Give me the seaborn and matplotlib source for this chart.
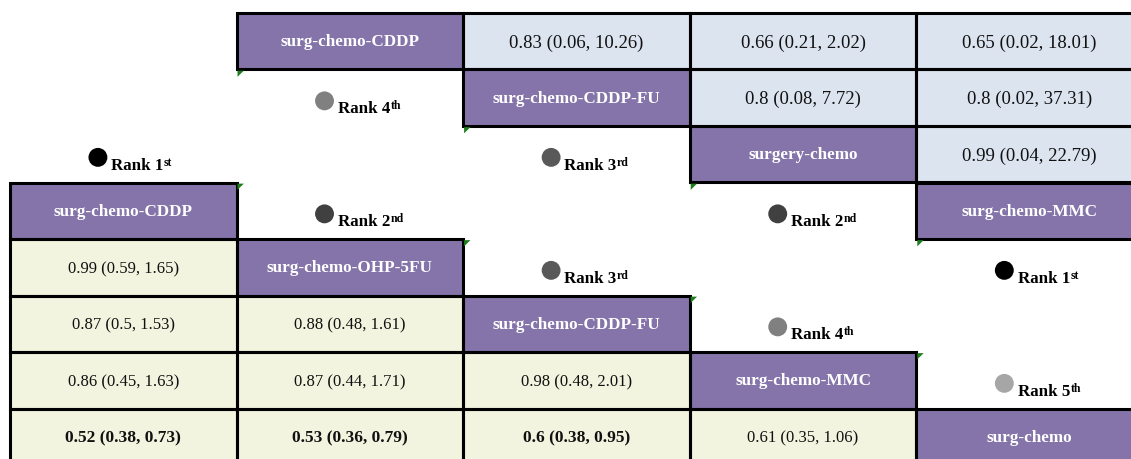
import numpy as np
import pandas as pd
import seaborn as sns
import matplotlib.pyplot as plt
from matplotlib.colors import ListedColormap
from matplotlib.patches import Polygon, Rectangle

# ---- data -------------------------------------------------------------
# upper league table (treatments on the diagonal, comparisons to the right)
top_treatments = ["surg-chemo-CDDP", "surg-chemo-CDDP-FU", "surgery-chemo", "surg-chemo-MMC"]
top_ranks = [4, 3, 2, 1]
top_pairs = [(0, 1), (0, 2), (0, 3), (1, 2), (1, 3), (2, 3)]
top_est = [0.83, 0.66, 0.65, 0.8, 0.8, 0.99]
top_lo = [0.06, 0.21, 0.02, 0.08, 0.02, 0.04]
top_hi = [10.26, 2.02, 18.01, 7.72, 37.31, 22.79]

# lower league table (treatments on the diagonal, comparisons below)
bottom_treatments = ["surg-chemo-CDDP", "surg-chemo-OHP-5FU", "surg-chemo-CDDP-FU",
                     "surg-chemo-MMC", "surg-chemo"]
bottom_ranks = [1, 2, 3, 4, 5]
bottom_pairs = [(1, 0), (2, 0), (2, 1), (3, 0), (3, 1), (3, 2),
                (4, 0), (4, 1), (4, 2), (4, 3)]
bottom_est = [0.99, 0.87, 0.88, 0.86, 0.87, 0.98, 0.52, 0.53, 0.6, 0.61]
bottom_lo = [0.59, 0.5, 0.48, 0.45, 0.44, 0.48, 0.38, 0.36, 0.38, 0.35]
bottom_hi = [1.65, 1.53, 1.61, 1.63, 1.71, 2.01, 0.73, 0.79, 0.95, 1.06]

# ---- style -------------------------------------------------------------
sns.set_theme(style="white")
plt.rcParams["font.family"] = ["Liberation Serif", "DejaVu Serif"]

HEADER = "#8474A9"
TOP_CELL = "#DCE4F0"
BOTTOM_CELL = "#F3F4DF"
rank_colors = {1: "#000000", 2: "#404040", 3: "#595959", 4: "#808080", 5: "#A6A6A6"}

N_ROWS, N_COLS = 8, 5
TOP_OFF = (0, 1)      # grid offset (row, col) of upper table
BOT_OFF = (3, 0)      # grid offset (row, col) of lower table

codes = np.full((N_ROWS, N_COLS), np.nan)
for k in range(len(top_treatments)):
    codes[k + TOP_OFF[0], k + TOP_OFF[1]] = 0
for (i, j) in top_pairs:
    codes[i + TOP_OFF[0], j + TOP_OFF[1]] = 1
for k in range(len(bottom_treatments)):
    codes[k + BOT_OFF[0], k + BOT_OFF[1]] = 0
for (i, j) in bottom_pairs:
    codes[i + BOT_OFF[0], j + BOT_OFF[1]] = 2
grid = pd.DataFrame(codes)

W, H = 1131, 459
fig = plt.figure(figsize=(W / 100, H / 100), dpi=100)
x0, y_top, cw, rh = 10, 13, 226.6, 56.5
ax = fig.add_axes([x0 / W, (H - (y_top + N_ROWS * rh)) / H,
                   N_COLS * cw / W, N_ROWS * rh / H])

sns.heatmap(grid, mask=grid.isna(), cmap=ListedColormap([HEADER, TOP_CELL, BOTTOM_CELL]),
            vmin=-0.5, vmax=2.5, cbar=False, linewidths=0,
            xticklabels=False, yticklabels=False, ax=ax)

# black frame around every filled cell only
for r in range(N_ROWS):
    for c in range(N_COLS):
        if not np.isnan(codes[r, c]):
            ax.add_patch(Rectangle((c, r), 1, 1, fill=False, edgecolor="black",
                                   lw=2.2, zorder=3, clip_on=False))


def fmt(e, lo, hi):
    return f"{e:g} ({lo:g}, {hi:g})"


def ordinal(n):
    return {1: "st", 2: "nd", 3: "rd"}.get(n, "th")


# treatment names on the diagonals
for k, name in enumerate(top_treatments):
    ax.text(k + TOP_OFF[1] + 0.5, k + TOP_OFF[0] + 0.52, name, color="white",
            fontsize=12.3, fontweight="bold", ha="center", va="center")
for k, name in enumerate(bottom_treatments):
    ax.text(k + BOT_OFF[1] + 0.5, k + BOT_OFF[0] + 0.52, name, color="white",
            fontsize=12.3, fontweight="bold", ha="center", va="center")

# comparison estimates
for (i, j), e, lo, hi in zip(top_pairs, top_est, top_lo, top_hi):
    ax.text(j + TOP_OFF[1] + 0.5, i + TOP_OFF[0] + 0.53, fmt(e, lo, hi),
            color="#111111", fontsize=13.5, ha="center", va="center")
for (i, j), e, lo, hi in zip(bottom_pairs, bottom_est, bottom_lo, bottom_hi):
    sig = hi < 1
    ax.text(j + BOT_OFF[1] + 0.5, i + BOT_OFF[0] + 0.53, fmt(e, lo, hi),
            color="#111111", fontsize=12.5 if sig else 12,
            fontweight="bold" if sig else "normal", ha="center", va="center")

# rank markers: below each upper-table name, above each lower-table name
rank_cells = []
for k, r in enumerate(top_ranks):
    rank_cells.append((k + TOP_OFF[0] + 1, k + TOP_OFF[1], r))
for k, r in enumerate(bottom_ranks):
    rank_cells.append((k + BOT_OFF[0] - 1, k + BOT_OFF[1], r))

ranks_df = pd.DataFrame(rank_cells, columns=["row", "col", "rank"])
ranks_df["x"] = ranks_df["col"] + 0.388
ranks_df["y"] = ranks_df["row"] + 0.555
sns.scatterplot(data=ranks_df, x="x", y="y", hue="rank", palette=rank_colors,
                s=185, linewidth=0, legend=False, ax=ax, zorder=5)
ax.set_xlim(0, N_COLS)
ax.set_ylim(N_ROWS, 0)
ax.axis("off")

for row, col, r in rank_cells:
    t = ax.text(col + 0.447, row + 0.77, f"Rank {r}", fontsize=12.2,
                fontweight="bold", ha="left", va="baseline", color="black")
    ax.annotate(ordinal(r), xy=(1, 1), xycoords=t, xytext=(0.2, 0.5),
                textcoords="offset points", fontsize=8.5, fontweight="bold",
                ha="left", va="top", color="black")
    # small green flag in the cell corner
    if col > 0:
        ax.add_patch(Polygon([(col + 0.004, row + 0.02), (col + 0.032, row + 0.02),
                              (col + 0.004, row + 0.13)], closed=True,
                             color="#1E7B1E", lw=0, zorder=6, clip_on=False))

fig.savefig("out.png", dpi=100)
